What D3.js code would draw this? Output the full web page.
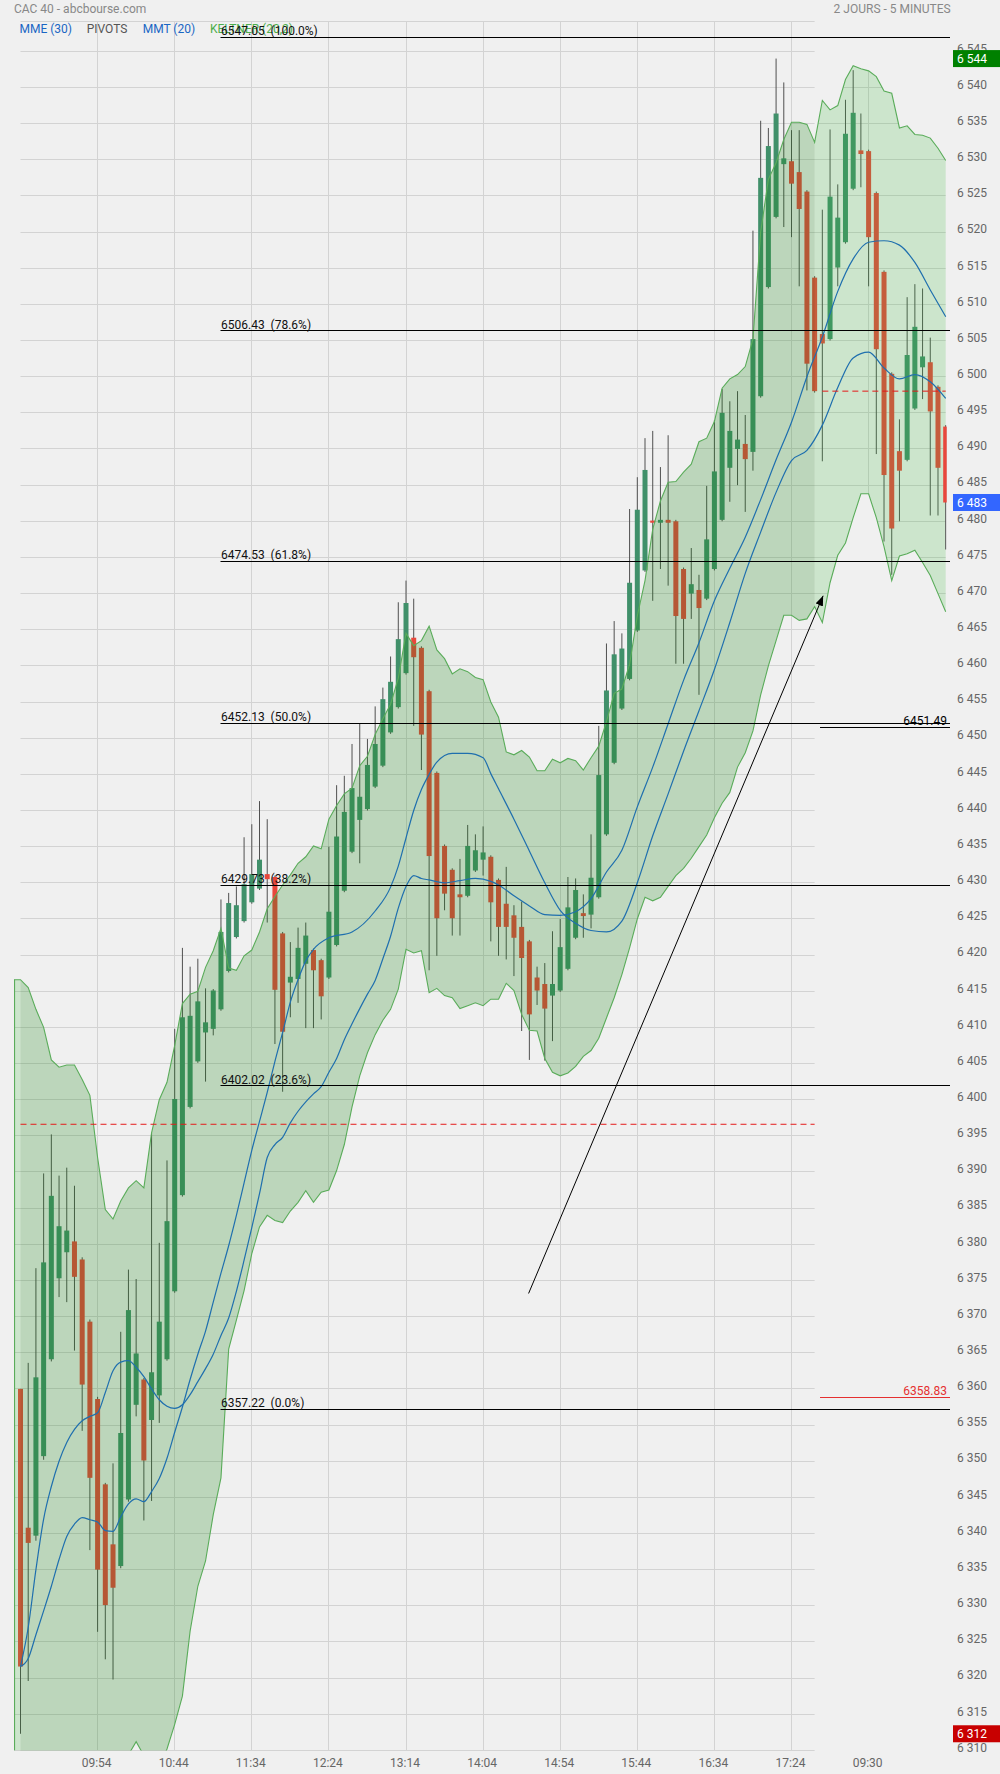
<!DOCTYPE html>
<html><head><meta charset="utf-8">
<script src="https://cdn.jsdelivr.net/npm/d3@7"></script>
<style>
html,body{margin:0;padding:0;background:#f0f0f0;}
svg{display:block;font-family:Roboto,"DejaVu Sans",sans-serif;}
</style></head><body>
<svg id="c" width="1000" height="1774"></svg>
<script>
// ---------- DATA (Heikin-Ashi 5-minute candles) ----------
const opens = [6360.0,6340.8,6339.7,6350.7,6364.1,6375.3,6378.9,6380.4,6377.9,6369.3,
6358.6,6346.8,6338.5,6335.5,6344.7,6357.8,6361.3,6355.7,6359.1,6364.1,
6373.5,6386.8,6399.0,6405.3,6409.3,6409.8,6412.5,6417.8,6422.5,6424.7,
6427.3,6429.2,6431.2,6430.8,6423.0,6416.2,6416.7,6418.8,6420.7,6419.3,
6416.9,6421.4,6428.9,6434.3,6438.7,6440.2,6443.3,6446.2,6450.8,6454.3,
6459.0,6463.9,6462.5,6456.5,6445.2,6435.1,6431.8,6428.4,6428.2,6431.7,
6433.2,6433.6,6430.4,6427.1,6425.5,6423.9,6421.9,6416.9,6416.0,6414.4,
6415.1,6418.1,6422.4,6425.8,6425.6,6428.0,6436.7,6446.6,6454.1,6458.2,
6464.9,6473.2,6480.1,6479.8,6480.2,6480.0,6473.4,6470.0,6470.5,6469.3,
6473.4,6480.2,6487.4,6490.0,6490.7,6489.6,6497.3,6512.4,6522.1,6529.4,
6529.8,6528.3,6525.6,6513.7,6505.9,6505.2,6515.1,6518.6,6526.0,6531.3,
6531.2,6525.4,6514.5,6500.4,6489.7,6488.5,6495.6,6501.3,6502.0,6498.6,6493.1];
const highs = [6360.0,6363.6,6376.7,6389.8,6395.2,6389.5,6390.6,6388.1,6378.2,6369.6,
6358.9,6347.0,6349.7,6367.9,6376.5,6375.2,6361.5,6395.4,6380.2,6391.6,
6409.8,6421.0,6418.4,6419.5,6415.4,6415.3,6427.7,6428.6,6429.5,6436.3,
6438.1,6441.3,6438.8,6431.0,6423.2,6421.8,6423.8,6424.5,6420.9,6419.5,
6435.0,6443.5,6444.8,6449.2,6452.0,6449.9,6454.4,6457.0,6461.3,6468.8,
6471.8,6469.3,6462.7,6456.7,6445.4,6435.3,6432.0,6433.3,6438.0,6436.7,
6437.8,6433.8,6430.6,6432.2,6426.9,6427.4,6422.1,6418.4,6418.9,6423.3,
6425.0,6430.8,6430.6,6428.4,6436.7,6451.7,6463.1,6466.2,6464.5,6481.7,
6486.1,6491.5,6492.5,6487.5,6491.9,6480.2,6473.6,6476.3,6472.6,6484.9,
6494.0,6498.3,6496.6,6498.0,6494.7,6520.2,6535.4,6534.4,6544.0,6540.7,
6534.1,6534.1,6525.8,6513.9,6523.1,6534.2,6526.6,6538.3,6542.4,6536.4,
6531.4,6525.6,6514.7,6500.6,6494.1,6511.0,6512.8,6512.2,6505.4,6498.8,6493.3];
const lows = [6312.3,6319.6,6339.0,6350.2,6363.8,6372.7,6372.0,6365.3,6354.2,6337.7,
6326.4,6322.6,6319.8,6335.2,6344.4,6356.2,6341.8,6344.5,6355.3,6363.9,
6373.3,6386.6,6398.8,6405.1,6402.5,6408.9,6412.3,6417.6,6422.3,6424.5,
6427.1,6429.0,6424.5,6407.7,6401.1,6411.4,6413.4,6409.9,6409.9,6411.1,
6416.7,6421.2,6428.7,6434.1,6432.7,6440.0,6443.1,6446.0,6450.6,6454.1,
6458.8,6451.7,6445.6,6417.9,6419.9,6426.2,6422.7,6422.7,6428.0,6431.5,
6431.0,6421.9,6419.9,6419.4,6417.1,6409.5,6405.5,6413.1,6405.4,6408.1,
6414.9,6417.9,6422.2,6422.4,6423.7,6427.8,6436.5,6446.4,6453.9,6458.0,
6464.7,6473.0,6469.0,6473.4,6471.1,6460.3,6460.3,6466.5,6456.0,6469.1,
6473.2,6480.0,6482.7,6485.0,6481.3,6487.0,6497.1,6512.2,6521.9,6520.7,
6519.3,6512.5,6498.1,6497.8,6488.3,6505.0,6512.5,6518.4,6525.8,6526.2,
6512.5,6489.3,6477.2,6472.6,6480.0,6488.3,6495.4,6496.9,6480.8,6480.8,6476.1];
const closes = [6321.6,6338.7,6361.6,6377.5,6386.7,6382.5,6381.9,6375.5,6360.6,6347.7,
6335.0,6330.1,6332.5,6353.9,6370.9,6364.9,6350.1,6362.3,6369.3,6383.2,
6400.1,6411.4,6411.6,6413.6,6410.7,6415.1,6423.2,6427.2,6426.9,6429.8,
6431.2,6433.2,6430.5,6415.2,6409.4,6417.0,6421.0,6422.7,6417.9,6414.3,
6426.0,6436.4,6439.8,6443.1,6441.9,6446.3,6449.2,6455.4,6457.8,6463.7,
6468.7,6461.2,6450.5,6433.7,6425.1,6428.5,6425.1,6428.0,6435.1,6434.5,
6434.2,6427.3,6423.9,6423.9,6422.4,6419.6,6411.8,6415.1,6412.6,6416.0,
6421.1,6426.6,6429.0,6425.4,6430.7,6444.9,6456.6,6461.6,6462.4,6471.5,
6481.6,6487.1,6479.8,6480.2,6479.8,6466.9,6466.5,6471.3,6468.0,6477.5,
6486.9,6495.0,6492.5,6491.3,6488.6,6505.2,6527.5,6531.9,6536.4,6530.2,
6526.7,6523.2,6501.8,6498.0,6504.6,6524.9,6522.0,6533.6,6536.5,6530.8,
6519.3,6503.8,6486.4,6479.0,6487.0,6503.0,6506.9,6502.8,6495.2,6487.4,6482.6];

// Keltner (20,2) band, one value per candle
const bandUpper = [6416.6,6415.5,6412.5,6410.0,6405.5,6404.5,6404.8,6404.8,6402.8,6400.6,
6392.0,6384.8,6383.5,6386.0,6387.8,6388.8,6387.8,6395.4,6400.0,6402.4,
6407.5,6413.3,6414.6,6415.0,6418.3,6420.6,6423.7,6418.2,6417.9,6419.9,
6420.7,6423.2,6426.4,6428.1,6429.7,6431.1,6432.7,6433.6,6435.1,6434.7,
6438.8,6440.7,6442.3,6443.1,6446.2,6447.5,6450.5,6452.7,6454.7,6458.3,
6464.5,6462.8,6463.5,6465.5,6462.2,6461.0,6458.9,6459.6,6459.2,6458.4,
6458.1,6455.0,6452.9,6448.1,6447.7,6448.3,6447.4,6445.5,6445.5,6447.1,
6446.6,6447.2,6446.9,6445.6,6447.3,6448.9,6452.3,6456.2,6456.8,6460.2,
6466.9,6471.8,6478.9,6482.8,6485.4,6485.5,6486.8,6487.9,6491.0,6491.5,
6493.8,6498.4,6499.7,6500.3,6501.4,6505.2,6520.0,6527.3,6529.6,6532.8,
6535.2,6535.2,6534.9,6532.4,6538.2,6536.9,6537.5,6541.1,6543.0,6542.6,
6542.3,6541.5,6539.5,6539.2,6534.4,6534.7,6533.5,6533.4,6533.0,6531.6,6529.9];
const bandLower = [6226,6240,6252,6262,6270,6278,6285,6290,6294,6298,
6301,6303.5,6305.5,6307.3,6309.4,6311.2,6309.3,6306.8,6307.6,6310.2,
6313.6,6317.5,6326.5,6332.7,6336.2,6342.6,6347.7,6365.5,6369.5,6373.6,
6378.7,6382.4,6384.0,6383.3,6383.0,6384.6,6385.8,6387.4,6385.8,6387.2,
6387.5,6390.2,6393.8,6399.0,6403.3,6406.5,6409.0,6411.0,6412.5,6415.3,
6420.8,6420.3,6420.6,6414.8,6415.4,6414.4,6414.1,6412.6,6413.0,6413.4,
6413.0,6413.9,6413.9,6416.1,6415.1,6411.8,6409.6,6409.5,6405.7,6403.8,
6403.3,6403.7,6404.6,6406.0,6406.8,6408.5,6411.3,6414.1,6417.3,6421.0,
6425.0,6428.0,6427.5,6428.0,6429.5,6431.0,6432.0,6433.4,6435.0,6436.6,
6439.0,6441.0,6442.5,6446.0,6448.0,6451.0,6456.0,6460.0,6463.5,6467.0,
6467.0,6466.3,6466.5,6468.2,6466.0,6471.5,6475.3,6477.0,6480.5,6483.8,
6483.8,6480.5,6476.5,6471.8,6475.2,6475.5,6476.0,6474.3,6472.5,6470.0,6467.5];

// MME (30) read at sample candles
const mmeIdx = [0,1,2,3,4,5,6,7,8,9,10,11,12,13,14,15,16,17,18,19,20,21,22,23,24,25,26,27,28,29,30,31,32,33,34,35,36,37,38,39,40,41,42,43,44,45,46,47,48,49,50,51,52,53,55,57,59,61,62,64,66,68,70,72,74,76,78,80,82,84,86,88,90,92,94,96,98,100,102,104,106,108,110,112,114,116,118,120];
const mmeVal = [6321.6,6327.0,6335.0,6342.0,6346.5,6350.0,6352.6,6354.4,6355.6,6356.2,6356.7,6359.5,6362.5,6363.7,6363.9,6363.0,6361.7,6360.0,6358.5,6357.6,6357.3,6357.8,6359.2,6361.0,6362.8,6364.8,6367.4,6369.8,6373.5,6377.8,6382.3,6387.0,6392.0,6393.8,6394.8,6396.8,6398.4,6399.7,6400.8,6401.8,6403.8,6405.7,6408.3,6410.5,6412.6,6414.6,6416.5,6419.5,6422.6,6426.5,6429.5,6431.0,6430.6,6430.4,6430.0,6430.3,6430.6,6430.2,6429.7,6428.2,6426.8,6425.6,6425.5,6426.0,6427.8,6431.5,6434.5,6440.5,6446.0,6452.0,6458.0,6463.2,6469.0,6473.5,6477.8,6483.0,6488.5,6493.7,6500.0,6505.5,6511.8,6516.3,6518.6,6518.8,6518.2,6515.8,6512.0,6508.3];
// MMT (20) read at sample candles
const mmtIdx = [0,1,2,3,4,5,6,7,8,9,10,11,12,13,14,15,16,17,18,19,20,21,22,23,24,25,26,27,28,29,30,31,32,33,34,35,36,37,38,40,43,46,48,49,50,51,52,53,54,56,58,60,61,62,64,66,68,70,72,74,76,78,80,82,84,86,88,90,92,94,96,98,100,102,104,106,108,110,112,114,116,118,120];
const mmtVal = [6321.6,6322.7,6326.0,6329.3,6332.7,6336.4,6339.6,6341.3,6342.2,6341.9,6341.6,6340.4,6340.3,6342.3,6344.1,6344.8,6344.4,6345.8,6347.6,6350.4,6354.0,6357.5,6361.3,6364.8,6368.0,6372.0,6376.0,6379.8,6384.0,6388.5,6393.0,6397.0,6401.0,6405.3,6409.3,6413.5,6416.6,6419.2,6420.8,6422.4,6423.2,6426.1,6429.4,6432.3,6436.2,6440.0,6442.9,6445.0,6446.7,6447.9,6447.9,6447.3,6445.1,6443.0,6438.8,6434.4,6430.0,6426.2,6424.4,6423.4,6423.2,6424.7,6430.0,6436.5,6442.3,6448.2,6453.8,6459.5,6466.0,6472.8,6478.5,6484.0,6488.4,6489.8,6493.3,6498.5,6502.6,6503.4,6501.2,6499.7,6500.3,6499.3,6497.0];

// Fibonacci retracement levels
const fibLevels = [6547.05,6506.43,6474.53,6452.13,6429.73,6402.02,6357.22];
const fibPct = ["100.0%","78.6%","61.8%","50.0%","38.2%","23.6%","0.0%"];
// previous closes (dashed red), per session [value, firstIdx, lastIdx]
const prevClose = [[6396.6,0,103],[6498.0,104,120]];
// right-hand reference levels
const refLevels = [6451.49,6358.83];
// trend arrow [idx, price] start -> end
const arrowPts = [[65.9,6373.2],[104.1,6469.7]];
// price marks on axis: high, last, low
const markValues = [6544.0,6482.6,6312.3];
const timeLabels = ["09:54","10:44","11:34","12:24","13:14","14:04","14:54","15:44","16:34","17:24","09:30"];
const timeLabelIdx = [10,20,30,40,50,60,70,80,90,100,110];
const legendItems = ["MME (30)","PIVOTS","MMT (20)","KELTNER (20,2)"];

// ---------- DRAW ----------
const svg = d3.select("#c");
const x = d3.scaleLinear().domain([0,120]).range([20.5,945.7]);
const y = d3.scaleLinear().domain([6310,6549.1]).range([1750.4,21.7]);
const plotL = 14, plotT = y.range()[1], plotB = y.range()[0], lineR = 950;
const sessionEnd = 103;
const n = closes.length;

const defs = svg.append("defs");
defs.append("clipPath").attr("id","plotClip").append("rect")
  .attr("x",plotL).attr("y",plotT).attr("width",x(120)-plotL+1).attr("height",plotB-plotT);

const bandPts = [{px:plotL,u:bandUpper[0],l:bandLower[0]}]
  .concat(bandUpper.map((u,i)=>({px:x(i),u:u,l:bandLower[i]})));
const area = d3.area().x(d=>d.px).y0(d=>y(d.l)).y1(d=>y(d.u));
const bandD = area(bandPts);

const gc = defs.append("clipPath").attr("id","gridClip");
gc.append("rect").attr("x",x(0)).attr("y",plotT-1).attr("width",x(sessionEnd)-x(0)).attr("height",plotB-plotT+2);
gc.append("path").attr("d",bandD);

const sc = defs.append("clipPath").attr("id","sessClip");
sc.append("rect").attr("x",x(0)).attr("y",plotT).attr("width",x(sessionEnd)-x(0)).attr("height",plotB-plotT);
const oc = defs.append("clipPath").attr("id","offClip");
oc.append("rect").attr("x",plotL).attr("y",plotT).attr("width",x(0)-plotL).attr("height",plotB-plotT);
oc.append("rect").attr("x",x(sessionEnd)).attr("y",plotT).attr("width",960-x(sessionEnd)).attr("height",plotB-plotT);

// grid
const grid = svg.append("g").attr("clip-path","url(#gridClip)")
  .attr("stroke","#d3d3d3").attr("stroke-width",1).attr("shape-rendering","crispEdges");
const yTicks = d3.range(6310,6546,5);
grid.selectAll("line.h").data(yTicks).join("line").attr("class","h")
  .attr("x1",plotL).attr("x2",x(120)).attr("y1",d=>y(d)).attr("y2",d=>y(d));
grid.append("line").attr("x1",plotL).attr("x2",x(120)).attr("y1",plotT).attr("y2",plotT);
grid.selectAll("line.v").data(timeLabelIdx).join("line").attr("class","v")
  .attr("x1",d=>x(d)).attr("x2",d=>x(d)).attr("y1",plotT).attr("y2",plotB);

// candles
const GREEN = "#40906a", RED = "#e8473c", WICK = "#505050";
function drawCandles(g, idx){
  g.selectAll("line.w").data(idx).join("line").attr("class","w")
    .attr("x1",i=>x(i)).attr("x2",i=>x(i)).attr("y1",i=>y(highs[i])).attr("y2",i=>y(lows[i]))
    .attr("stroke",WICK).attr("stroke-width",1);
  g.selectAll("rect.b").data(idx).join("rect").attr("class","b")
    .attr("x",i=>x(i)-2.5).attr("width",5)
    .attr("y",i=>y(Math.max(opens[i],closes[i])))
    .attr("height",i=>Math.max(1.2,Math.abs(y(opens[i])-y(closes[i]))))
    .attr("fill",i=>closes[i]>=opens[i]?GREEN:RED);
}
drawCandles(svg.append("g").attr("clip-path","url(#plotClip)"), d3.range(0,n-1));

// band fills
const bandG = svg.append("g").attr("clip-path","url(#plotClip)");
bandG.append("path").attr("d",bandD).attr("clip-path","url(#offClip)").attr("fill","rgba(60,185,60,0.2)");
bandG.append("path").attr("d",bandD).attr("clip-path","url(#sessClip)").attr("fill","rgba(32,136,28,0.25)");
const bandLineU = d3.line().x(d=>d.px).y(d=>y(d.u));
const bandLineL = d3.line().x(d=>d.px).y(d=>y(d.l));
bandG.append("path").attr("d",bandLineU(bandPts)).attr("fill","none").attr("stroke","#5aac5a").attr("stroke-width",1.1);
bandG.append("path").attr("d",bandLineL(bandPts)).attr("fill","none").attr("stroke","#5aac5a").attr("stroke-width",1.1);
bandG.append("line").attr("x1",plotL+0.5).attr("x2",plotL+0.5).attr("y1",y(bandUpper[0])).attr("y2",plotB)
  .attr("stroke","#5aac5a").attr("stroke-width",1.2);

// moving averages
const maLine = d3.line().curve(d3.curveMonotoneX).x(d=>x(d[0])).y(d=>y(d[1]));
const maG = svg.append("g").attr("clip-path","url(#plotClip)").attr("fill","none").attr("stroke","#1f6fae").attr("stroke-width",1.2);
maG.append("path").attr("d",maLine(mmeIdx.map((d,k)=>[d,mmeVal[k]])));
maG.append("path").attr("d",maLine(mmtIdx.map((d,k)=>[d,mmtVal[k]])));

// previous close dashed
svg.append("g").selectAll("line").data(prevClose).join("line")
  .attr("x1",d=>x(d[1])).attr("x2",d=>x(d[2])).attr("y1",d=>y(d[0])).attr("y2",d=>y(d[0]))
  .attr("stroke","#e41a1a").attr("stroke-width",1).attr("stroke-dasharray","6,4");

// fibonacci lines
const fibX = 220.5;
const fg = svg.append("g");
fg.selectAll("line").data(fibLevels).join("line")
  .attr("x1",fibX).attr("x2",lineR).attr("y1",d=>Math.round(y(d))+0.5).attr("y2",d=>Math.round(y(d))+0.5)
  .attr("stroke","#000").attr("stroke-width",1);
fg.selectAll("text").data(fibLevels).join("text")
  .attr("x",fibX+0.5).attr("y",d=>y(d)-1.5).attr("font-size",12).attr("fill","#111")
  .text((d,k)=>d.toFixed(2)+"\u00a0\u00a0("+fibPct[k]+")");

// right reference levels
const refColors = ["#000","#e53030"];
svg.append("g").selectAll("line").data(refLevels).join("line")
  .attr("x1",x(103.7)).attr("x2",lineR).attr("y1",d=>Math.round(y(d))+0.5).attr("y2",d=>Math.round(y(d))+0.5)
  .attr("stroke",(d,k)=>refColors[k]).attr("stroke-width",1);
svg.append("g").selectAll("text").data(refLevels).join("text")
  .attr("x",947).attr("y",d=>y(d)-2.5).attr("text-anchor","end").attr("font-size",12)
  .attr("fill",(d,k)=>refColors[k]).text(d=>d.toFixed(2));

// arrow
defs.append("marker").attr("id","ah").attr("viewBox","0 0 10 8").attr("refX",10).attr("refY",4)
  .attr("markerWidth",10).attr("markerHeight",8).attr("markerUnits","userSpaceOnUse").attr("orient","auto")
  .append("path").attr("d","M0,0L10,4L0,8Z").attr("fill","#000");
svg.append("line").attr("x1",x(arrowPts[0][0])).attr("y1",y(arrowPts[0][1]))
  .attr("x2",x(arrowPts[1][0])).attr("y2",y(arrowPts[1][1]))
  .attr("stroke","#000").attr("stroke-width",1).attr("marker-end","url(#ah)");

// last (current) candle on top
drawCandles(svg.append("g").attr("clip-path","url(#plotClip)"), [n-1]);

// y axis labels
const fmt = d3.formatLocale({decimal:",",thousands:"\u00a0",grouping:[3],currency:["","€"]}).format(",d");
svg.append("g").selectAll("text").data(yTicks).join("text")
  .attr("x",957).attr("y",d=>y(d)+1.3).attr("font-size",12).attr("fill","#666").text(d=>fmt(d));
const markColors = ["#008000","#3366ff","#c80000"];
const mg = svg.append("g");
mg.selectAll("rect").data(markValues).join("rect")
  .attr("x",953).attr("width",47).attr("y",d=>y(d)-8.5).attr("height",17).attr("fill",(d,k)=>markColors[k]);
mg.selectAll("text").data(markValues).join("text")
  .attr("x",957).attr("y",d=>y(d)+4.3).attr("font-size",12).attr("fill","#fff").text(d=>fmt(Math.round(d)));

// x axis labels
svg.append("g").selectAll("text").data(timeLabelIdx).join("text")
  .attr("x",d=>x(d)-1).attr("y",1767.3).attr("text-anchor","middle").attr("font-size",12).attr("fill","#666")
  .text((d,k)=>timeLabels[k]);

// header
svg.append("text").attr("x",14).attr("y",13).attr("font-size",12).attr("fill","#888").text("CAC 40 - abcbourse.com");
svg.append("text").attr("x",950.7).attr("y",13).attr("text-anchor","end").attr("font-size",12).attr("fill","#888").text("2 JOURS - 5 MINUTES");
const legX = [19.5,86.7,142.7,210];
const legC = ["#1a66c4","#555","#1a66c4","#4cae4c"];
svg.append("g").selectAll("text").data(legendItems).join("text")
  .attr("x",(d,k)=>legX[k]).attr("y",33.3).attr("font-size",12).attr("fill",(d,k)=>legC[k]).text(d=>d);
// fib label of top level drawn over legend (as in reference)
fg.raise();
</script>
</body></html>
